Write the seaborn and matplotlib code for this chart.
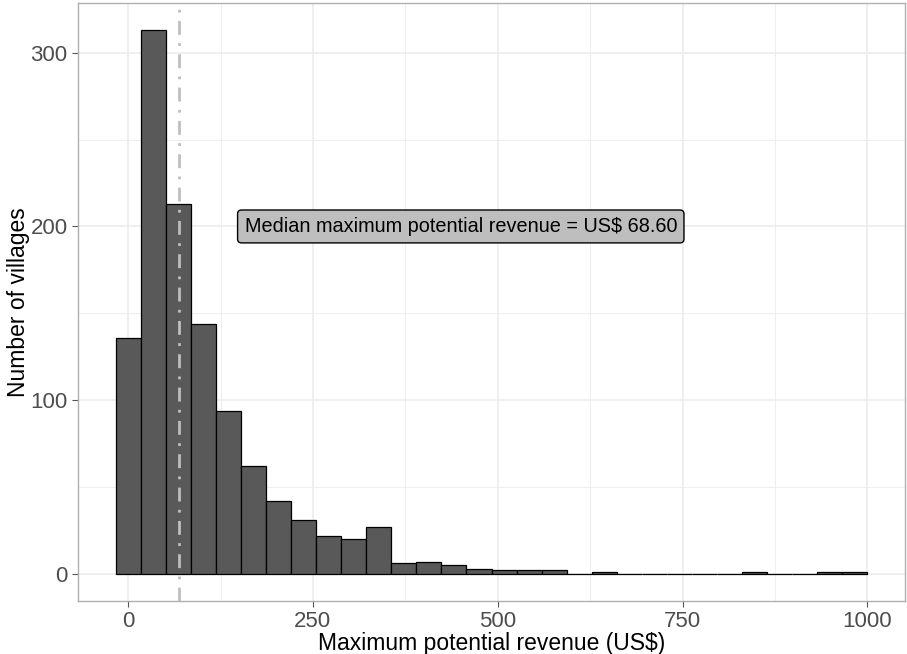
import numpy as np
import pandas as pd
import matplotlib
matplotlib.use('Agg')
import matplotlib.pyplot as plt
import seaborn as sns
from matplotlib.ticker import MultipleLocator

# Histogram counts (30 bins, width ~33.9)
bin_start = -16.95
bin_width = 33.9
counts = [136, 313, 213, 144, 94, 62, 42, 31, 22, 20,
          27, 6, 7, 5, 3, 2, 2, 2, 0, 1,
          0, 0, 0, 0, 0, 1, 0, 0, 1, 1]
median_revenue = 68.60
x_ticks = [0, 250, 500, 750, 1000]
y_ticks = [0, 100, 200, 300]

edges = bin_start + bin_width * np.arange(len(counts) + 1)
centers = (edges[:-1] + edges[1:]) / 2
df = pd.DataFrame({'revenue': centers, 'n': counts})

sns.set_theme(style='white')
plt.rcParams['font.family'] = ['Liberation Sans', 'DejaVu Sans']

fig = plt.figure(figsize=(9.07, 6.54), dpi=100)
ax = fig.add_axes([78 / 907, 53 / 654, 827 / 907, 598 / 654])

# grid (major + minor) like theme_bw
ax.set_axisbelow(True)
ax.xaxis.set_minor_locator(MultipleLocator(125))
ax.yaxis.set_minor_locator(MultipleLocator(50))
ax.grid(True, which='major', color='#EBEBEB', linewidth=1.1)
ax.grid(True, which='minor', color='#EBEBEB', linewidth=0.6)

sns.histplot(data=df, x='revenue', weights='n',
             binwidth=bin_width, binrange=(edges[0], edges[-1]),
             color='#595959', edgecolor='black', linewidth=0.9,
             alpha=1, ax=ax)

ax.axvline(median_revenue, color='#BEBEBE', linewidth=2,
           linestyle=(0, (5, 3, 1, 3)))

ax.text(450, 200, f'Median maximum potential revenue = US$ {median_revenue:.2f}',
        ha='center', va='center', fontsize=14.3, color='black',
        bbox=dict(boxstyle='round,pad=0.35,rounding_size=0.2',
                  facecolor='#BEBEBE', edgecolor='black', linewidth=1))

span = edges[-1] - edges[0]
ax.set_xlim(edges[0] - 0.05 * span, edges[-1] + 0.05 * span)
ax.set_ylim(-0.05 * max(counts), max(counts) * 1.05)
ax.set_xticks(x_ticks)
ax.set_yticks(y_ticks)

for s in ax.spines.values():
    s.set_color('#B0B0B0')
    s.set_linewidth(1.0)
ax.tick_params(which='major', length=4, width=0.8, color='#555555',
               labelsize=16, labelcolor='#4D4D4D', bottom=True, left=True)
ax.tick_params(which='minor', length=0)

ax.set_xlabel('Maximum potential revenue (US$)', fontsize=16.5, color='black', labelpad=0)
ax.set_ylabel('Number of villages', fontsize=16.5, color='black', labelpad=0)

fig.savefig('out.png', dpi=100)
